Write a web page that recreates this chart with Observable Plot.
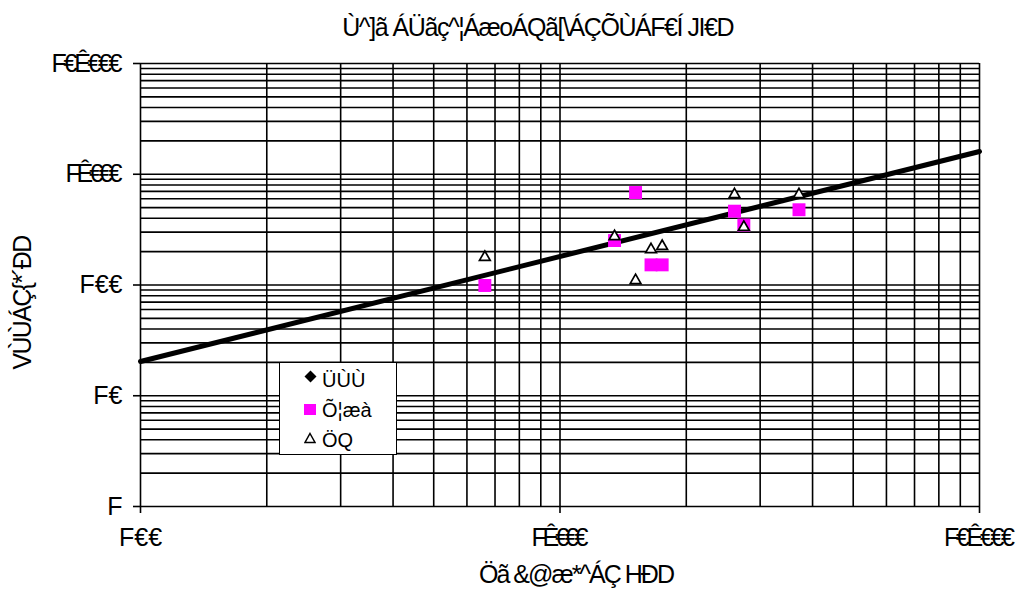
<!DOCTYPE html>
<html>
<head>
<meta charset="utf-8">
<script src="https://cdn.jsdelivr.net/npm/d3@7"></script>
<script src="https://cdn.jsdelivr.net/npm/@observablehq/plot@0.6"></script>
<style>
  html, body { margin: 0; padding: 0; background: #fff; }
  #wrap { position: relative; width: 1027px; height: 593px; font-family: "Liberation Sans", Arial, sans-serif; color: #000; overflow: hidden; }
  .lbl { position: absolute; white-space: nowrap; font-size: 25px; line-height: 25px; }
  #legend { position: absolute; left: 279px; top: 362px; width: 116px; height: 91px; border: 1px solid #000; background: #fff; font-size: 20px; line-height: 20px; }
  #legend .mk { position: absolute; display: block; }
  #legend .tx { position: absolute; white-space: nowrap; }
</style>
</head>
<body>
<div id="wrap">
  <div id="chart"></div>
  <div id="title" class="lbl"></div>
  <div id="xlabel" class="lbl"></div>
  <div id="ylabel" class="lbl"></div>
  <div id="legend"></div>
</div>
<script>
// ---- data ----
const titleText = "Ù^]ã ÁÜãç^¦ÁæoÁQã[\\ÁÇÕÙÁF€Í JI€D";
const xLabel = "Öã &@æ*^ÁÇ HÐD";
const yLabel = "VÙÙÁÇ{*´ÐD";

const xTicks = [100, 1000, 10000];
const xTickLabels = ["F€€", "FÊ€€€", "F€Ê€€€"];
const yTicks = [1, 10, 100, 1000, 10000];
const yTickLabels = ["F", "F€", "F€€", "FÊ€€€", "F€Ê€€€"];

const seriesNames = ["ÜÙÙ", "Õ¦æà", "ÖQ"];

// series 1 (diamonds) – no visible points
const s1X = [];
const s1Y = [];
// series 2 (magenta squares)
const s2X = [662, 1349, 1514, 1648, 1752, 2606, 2743, 3713];
const s2Y = [99, 252, 684, 152, 152, 464, 348, 478];
// series 3 (open triangles)
const s3X = [662, 1349, 1514, 1648, 1752, 2606, 2743, 3713];
const s3Y = [178, 274, 110, 209, 224, 656, 333, 656];

// trend line end points
const trendX = [100, 10000];
const trendY = [20.4, 1604];

// ---- build ----
const gridX = [];
for (let d = 100; d < 10000; d *= 10) for (let k = 1; k < 10; k++) gridX.push(d * k);
gridX.push(10000);
const gridY = [];
for (let d = 1; d < 10000; d *= 10) for (let k = 1; k < 10; k++) gridY.push(d * k);
gridY.push(10000);

const s1 = s1X.map((x, i) => ({x, y: s1Y[i]}));
const s2 = s2X.map((x, i) => ({x, y: s2Y[i]}));
const s3 = s3X.map((x, i) => ({x, y: s3Y[i]}));
const trend = trendX.map((x, i) => ({x, y: trendY[i]}));

const xFmt = v => xTickLabels[xTicks.indexOf(v)] ?? "";
const yFmt = v => yTickLabels[yTicks.indexOf(v)] ?? "";

const chart = Plot.plot({
  width: 1027,
  height: 593,
  marginTop: 63,
  marginBottom: 87,
  marginLeft: 140,
  marginRight: 48,
  style: {fontFamily: "Liberation Sans, Arial, sans-serif", fontSize: "25px", color: "#000", background: "#fff"},
  x: {type: "log", domain: [100, 10000]},
  y: {type: "log", domain: [1, 10000]},
  marks: [
    Plot.ruleX(gridX, {stroke: "#000", strokeWidth: 1.6}),
    Plot.ruleY(gridY, {stroke: "#000", strokeWidth: 1.6}),
    Plot.axisX(xTicks, {tickFormat: xFmt, tickSize: 7, tickPadding: 15, fontSize: 25, label: null, stroke: "#000", strokeWidth: 1.6}),
    Plot.axisY(yTicks, {tickFormat: yFmt, tickSize: 7, tickPadding: 11, fontSize: 25, label: null, stroke: "#000", strokeWidth: 1.6}),
    Plot.line(trend, {x: "x", y: "y", stroke: "#000", strokeWidth: 5}),
    Plot.dot(s1, {x: "x", y: "y", symbol: "diamond", fill: "#000", r: 4}),
    Plot.dot(s2, {x: "x", y: "y", symbol: "square", fill: "#ff00ff", r: 7.3}),
    Plot.dot(s3, {x: "x", y: "y", symbol: "triangle", fill: "#fff", stroke: "#000", strokeWidth: 1.7, r: 4})
  ]
});
document.getElementById("chart").appendChild(chart);

// the reference draws the comma glyph (Ê) with no advance: tighten those labels
chart.querySelectorAll("text").forEach(t => {
  const s = t.textContent;
  const n = [...s].filter(c => c === "Ê").length;
  if (n) {
    const w = t.getComputedTextLength();
    t.setAttribute("textLength", (w - n * 16.7).toFixed(1));
    t.setAttribute("lengthAdjust", "spacing");
  }
});

// ---- titles (letter-spacing tightened to the reference's footprint) ----
function place(id, str, cx, cy, targetW, rot) {
  const el = document.getElementById(id);
  el.textContent = str;
  const n = [...str].length;
  const w = el.offsetWidth;
  const ls = (targetW - w) / n;
  el.style.letterSpacing = ls.toFixed(2) + "px";
  el.style.left = (cx - ls / 2) + "px";
  el.style.top = cy + "px";
  el.style.transform = "translate(-50%, -50%)" + (rot ? " rotate(-90deg)" : "");
}
place("title", titleText, 537, 27, 391, false);
place("xlabel", xLabel, 575, 574, 194, false);
place("ylabel", yLabel, 21, 303, 133, true);

// ---- legend (HTML overlay) ----
const legend = document.getElementById("legend");
const markers = [
  '<svg class="mk" width="13" height="13" style="left:24px;top:7px"><path d="M6.5,0.5 L12.5,6.5 L6.5,12.5 L0.5,6.5Z" fill="#000"/></svg>',
  '<svg class="mk" width="12" height="12" style="left:24px;top:41px"><rect x="0" y="0" width="12" height="11" fill="#ff00ff"/></svg>',
  '<svg class="mk" width="12" height="12" style="left:24px;top:69px"><path d="M6,1.5 L11,10.5 L1,10.5Z" fill="#fff" stroke="#000" stroke-width="1.5"/></svg>'
];
const textTops = [7, 37, 67];
seriesNames.forEach((name, i) => {
  legend.insertAdjacentHTML("beforeend", markers[i]);
  legend.insertAdjacentHTML("beforeend", '<div class="tx" style="left:42px;top:' + textTops[i] + 'px">' + name + '</div>');
});
</script>
</body>
</html>
